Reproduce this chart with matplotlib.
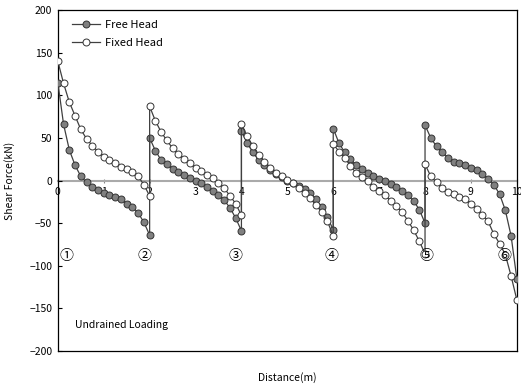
import matplotlib
matplotlib.use("Agg")
import matplotlib.pyplot as plt

plt.rcParams['font.family'] = ['Noto Sans CJK KR', 'DejaVu Sans']
plt.rcParams['font.size'] = 7.5

# pile segments start every 2 m, 17 readings per segment
seg_starts = [0, 2, 4, 6, 8]
seg_offsets = [0, 0.125, 0.25, 0.375, 0.5, 0.625, 0.75, 0.875, 1.0,
               1.125, 1.25, 1.375, 1.5, 1.625, 1.75, 1.875, 2.0]

free_head = [
    [115, 66, 36, 18, 5, -2, -7, -11, -15, -17, -19, -22, -27, -31, -38, -49, -64],
    [50, 35, 24, 19, 14, 10, 6, 3, 0, -3, -7, -12, -17, -23, -32, -44, -59],
    [58, 44, 33, 24, 18, 12, 8, 4, 0, -3, -6, -10, -15, -22, -31, -43, -58],
    [61, 44, 33, 25, 18, 13, 9, 5, 2, -1, -4, -8, -12, -17, -24, -34, -50],
    [65, 50, 40, 33, 27, 22, 20, 18, 15, 12, 8, 2, -5, -16, -35, -65, -115],
]
fixed_head = [
    [140, 114, 92, 76, 60, 49, 41, 34, 28, 24, 20, 16, 13, 10, 5, -5, -18],
    [87, 70, 57, 47, 38, 31, 25, 20, 15, 11, 7, 3, -3, -9, -18, -27, -41],
    [66, 52, 40, 30, 22, 15, 9, 5, 1, -3, -9, -15, -21, -29, -37, -48, -65],
    [43, 34, 27, 17, 9, 4, -1, -7, -12, -17, -24, -30, -37, -47, -58, -71, -86],
    [19, 5, -2, -9, -13, -16, -19, -22, -27, -33, -40, -48, -63, -74, -87, -112, -140],
]

marker_labels = ['①', '②', '③', '④', '⑤', '⑥']
marker_label_x = [0.19, 1.89, 3.86, 5.96, 8.03, 9.74]
marker_label_y = -89

distance = [s + o for s in seg_starts for o in seg_offsets]
free_vals = [v for seg in free_head for v in seg]
fixed_vals = [v for seg in fixed_head for v in seg]

fig = plt.figure(figsize=(5.21, 3.87), dpi=100)
ax = fig.add_axes([0.111, 0.093, 0.881, 0.881])

ax.plot(distance, free_vals, color='#404040', lw=0.9, marker='o', ms=5,
        mfc='#808080', mec='#333333', mew=0.7, label='Free Head', zorder=3)
ax.plot(distance, fixed_vals, color='#404040', lw=0.9, marker='o', ms=5,
        mfc='white', mec='#333333', mew=0.7, label='Fixed Head', zorder=3)

for lab, lx in zip(marker_labels, marker_label_x):
    ax.text(lx, marker_label_y, lab, ha='center', va='center', fontsize=10)

ax.text(0.37, -170, 'Undrained Loading', ha='left', va='center', fontsize=7.5)

ax.set_xlim(0, 10)
ax.set_ylim(-200, 200)
ax.set_yticks(range(-200, 201, 50))
ax.tick_params(axis='y', direction='in', length=3, pad=4)
ax.set_xticks([])
for sp in ax.spines.values():
    sp.set_linewidth(0.9)

# x axis drawn along zero line, labels below it
secax = ax.secondary_xaxis(0.5)
secax.set_alignment('bottom')
secax.set_xticks(range(0, 11))
secax.spines['bottom'].set_color('#aaaaaa')
secax.spines['bottom'].set_linewidth(1.5)
secax.tick_params(axis='x', direction='inout', length=3, pad=3,
                  color='#888888')

ax.set_xlabel('Distance(m)', labelpad=15)
ax.set_ylabel('Shear Force(kN)')
ax.yaxis.set_label_coords(-0.093, 0.5)

ax.legend(loc='upper left', bbox_to_anchor=(0.01, 1.0), frameon=False,
          handlelength=2.5, handletextpad=0.4, labelspacing=0.7,
          fontsize=8)

fig.savefig('out.png', dpi=100)
